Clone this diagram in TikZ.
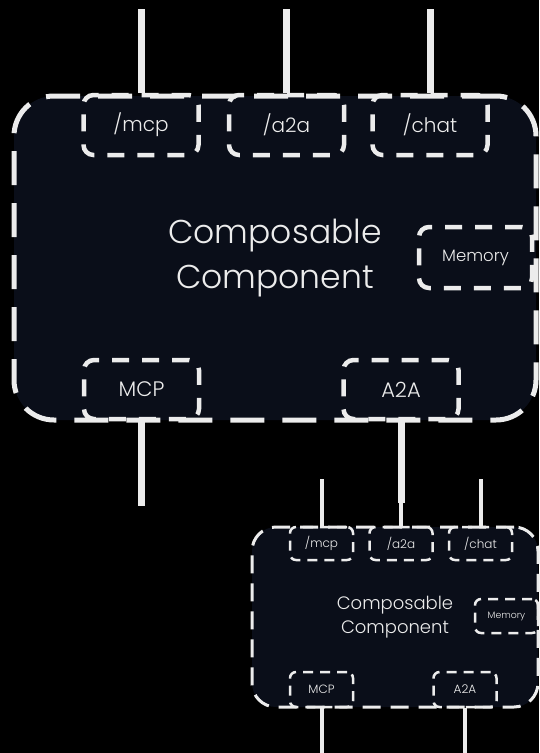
\documentclass[tikz,border=0pt]{standalone}
\usepackage{fontspec}
\setmainfont{Poppins}[UprightFont={* Light}]
\usetikzlibrary{positioning}
\definecolor{navyFill}{RGB}{10, 14, 25}
\definecolor{lineGray}{RGB}{236, 236, 236}

\begin{document}
\begin{tikzpicture}[
        x=1pt, y=-1pt,
        component/.style={
            rectangle,
            rounded corners=40pt,
            draw=lineGray,
            fill=navyFill,
            line width=5pt,
            dash pattern=on 34pt off 18pt,
            inner sep=0pt,
            minimum width=522pt,
            minimum height=324pt,
            align=center,
            text=lineGray,
            font=\fontsize{33}{45}\selectfont
        },
        port/.style={
            rectangle,
            rounded corners=10pt,
            draw=lineGray,
            line width=4.5pt,
            dash pattern=on 17pt off 13pt,
            inner sep=0pt,
            minimum width=115pt,
            minimum height=60pt,
            text=lineGray,
            font=\fontsize{20}{24}\selectfont
        },
        smallcomponent/.style={
            component,
            rounded corners=24pt,
            line width=3pt,
            dash pattern=on 18pt off 10pt,
            minimum width=286pt,
            minimum height=180pt,
            font=\fontsize{18}{24}\selectfont
        },
        smallport/.style={
            port,
            rounded corners=6pt,
            line width=2.5pt,
            dash pattern=on 10pt off 7pt,
            minimum width=63pt,
            minimum height=33pt,
            font=\fontsize{12}{15}\selectfont
        },
        wire/.style={
            draw=lineGray,
            line width=7pt
        },
        smallwire/.style={
            draw=lineGray,
            line width=4pt
        }
    ]

    \fill[black] (0,0) rectangle (539,753);
    \useasboundingbox (0,0) rectangle (539,753);

    % upper component
    \node[component] (comp) at (275,258) {Composable\\Component};
    \node[port] (inMcp) at (141,125) {/mcp};
    \node[port] (inA2a) at (286.5,125) {/a2a};
    \node[port] (inChat) at (430,125) {/chat};
    \node[port, minimum width=113pt, minimum height=61pt,
        font=\fontsize{16.5}{20}\selectfont] (mem) at (475.5,257.5) {Memory};
    \node[port, minimum height=59pt, font=\fontsize{21}{24}\selectfont] (outMcp) at (141.5,389.5) {MCP};
    \node[port, minimum height=59pt, font=\fontsize{21}{24}\selectfont] (outA2a) at (401,389.5) {A2A};

    \coordinate (srcMcp) at (141,9);
    \coordinate (srcA2a) at (286.5,9);
    \coordinate (srcChat) at (430,9);
    \coordinate (endMcp) at (141.5,506);
    \coordinate (endA2a) at (401,503);

    \draw[wire] (srcMcp) -- (inMcp.north);
    \draw[wire] (srcA2a) -- (inA2a.north);
    \draw[wire] (srcChat) -- (inChat.north);
    \draw[wire] (outMcp.south) -- (endMcp);
    \draw[wire] (outA2a.south) -- (endA2a);

    % lower component
    \node[smallcomponent] (subComp) at (395,617) {Composable\\Component};
    \node[smallport] (subInMcp) at (321.5,543.5) {/mcp};
    \node[smallport] (subInA2a) at (401,543.5) {/a2a};
    \node[smallport] (subInChat) at (480.5,543.5) {/chat};
    \node[smallport, minimum height=34pt,
        font=\fontsize{9.3}{12}\selectfont] (subMem) at (506.5,616) {Memory};
    \node[smallport, minimum height=35pt] (subOutMcp) at (321.5,689.5) {MCP};
    \node[smallport, minimum height=35pt] (subOutA2a) at (465,689.5) {A2A};

    \coordinate (subSrcMcp) at (321.5,479);
    \coordinate (subSrcA2a) at (401,479);
    \coordinate (subSrcChat) at (480.5,479);
    \coordinate (subEndMcp) at (321.5,753);
    \coordinate (subEndA2a) at (465,753);

    \draw[smallwire] (subSrcMcp) -- (subInMcp.north);
    \draw[smallwire] (subSrcA2a) -- (subInA2a.north);
    \draw[smallwire] (subSrcChat) -- (subInChat.north);
    \draw[smallwire] (subOutMcp.south) -- (subEndMcp);
    \draw[smallwire] (subOutA2a.south) -- (subEndA2a);

    \end{tikzpicture}
\end{document}
